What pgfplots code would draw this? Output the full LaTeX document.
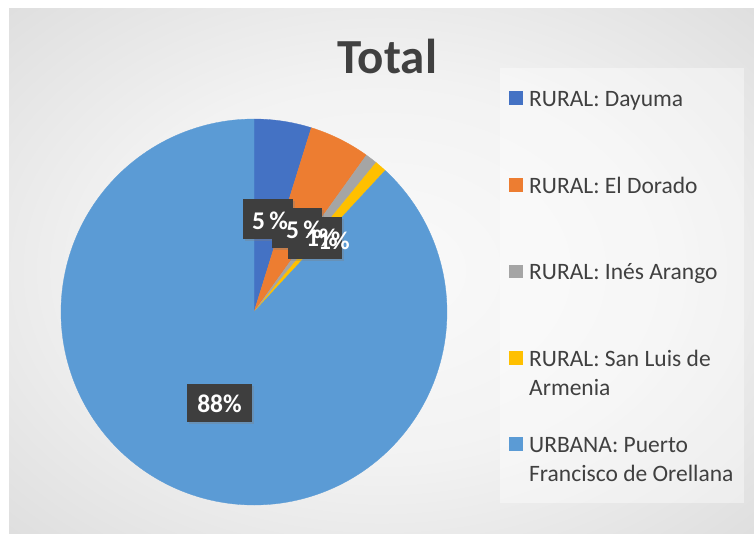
\documentclass[border=0pt]{standalone}
\usepackage{pgfplots}
\pgfplotsset{compat=1.18}
\usepackage{pgfplotstable}
\usepackage{fontspec}
\setmainfont{Carlito}
\usetikzlibrary{shadows}
\definecolor{cA}{HTML}{4472C4}
\definecolor{cB}{HTML}{ED7D31}
\definecolor{cC}{HTML}{A5A5A5}
\definecolor{cD}{HTML}{FFC000}
\definecolor{cE}{HTML}{5B9BD5}
\definecolor{txt}{HTML}{404040}
\definecolor{lblbg}{HTML}{3E3E3E}
\pgfdeclareradialshading{bgshade}{\pgfpoint{0bp}{0bp}}{color(0bp)=(white!98!black); color(18bp)=(white!95!black); color(50bp)=(white!81!black); color(72bp)=(white!74!black)}

\pgfplotstableread{
name value
Dayuma 4.8
ElDorado 5.1
InesArango 1.0
SanLuis 1.0
Urbana 88.1
}\piedata

\begin{document}
\begin{tikzpicture}
\begin{scope}[x=1pt,y=-1pt]
\fill[white] (0,0) rectangle (754,533);
\shade[shading=bgshade] (9,8) rectangle (754,533);
\fill[white, fill opacity=0.4] (500,68) rectangle (744,503);
\node[anchor=base, font=\fontsize{49}{52}\selectfont\bfseries, text=txt, inner sep=0] at (387.5,73) {Total};
\tikzset{lg/.style={anchor=base west, inner sep=0, font=\fontsize{23.5}{29}\selectfont, text=txt}}
\fill[cA] (509,91) rectangle (522.5,104.5);
\node[lg] at (529,106.5) {RURAL: Dayuma};
\fill[cB] (509,178) rectangle (522.5,191.5);
\node[lg] at (529,193) {RURAL: El Dorado};
\fill[cC] (509,264.5) rectangle (522.5,278);
\node[lg] at (529,279.5) {RURAL: Inés Arango};
\fill[cD] (509,351) rectangle (522.5,364.5);
\node[lg] at (529,366) {RURAL: San Luis de};
\node[lg] at (529,395) {Armenia};
\fill[cE] (509,437) rectangle (522.5,450.5);
\node[lg] at (529,452) {URBANA: Puerto};
\node[lg] at (529,481) {Francisco de Orellana};
\end{scope}

\pgfplotstablegetelem{0}{value}\of\piedata \let\vA\pgfplotsretval
\pgfplotstablegetelem{1}{value}\of\piedata \let\vB\pgfplotsretval
\pgfplotstablegetelem{2}{value}\of\piedata \let\vC\pgfplotsretval
\pgfplotstablegetelem{3}{value}\of\piedata \let\vD\pgfplotsretval
\pgfmathsetmacro\aA{90}
\pgfmathsetmacro\aB{\aA-3.6*\vA}
\pgfmathsetmacro\aC{\aB-3.6*\vB}
\pgfmathsetmacro\aD{\aC-3.6*\vC}
\pgfmathsetmacro\aE{\aD-3.6*\vD}
\pgfmathsetmacro\aF{\aA-360}

\begin{axis}[at={(254pt,-312pt)}, anchor=origin, x=193pt, y=193pt,
  xmin=-1, xmax=1, ymin=-1, ymax=1, hide axis, clip=false]
\addplot[fill=cA, draw=cA, line width=0.3pt, domain=\aB:\aA, samples=30] ({cos(x)},{sin(x)}) -- (axis cs:0,0) -- cycle;
\addplot[fill=cB, draw=cB, line width=0.3pt, domain=\aC:\aB, samples=30] ({cos(x)},{sin(x)}) -- (axis cs:0,0) -- cycle;
\addplot[fill=cC, draw=cC, line width=0.3pt, domain=\aD:\aC, samples=10] ({cos(x)},{sin(x)}) -- (axis cs:0,0) -- cycle;
\addplot[fill=cD, draw=cD, line width=0.3pt, domain=\aE:\aD, samples=10] ({cos(x)},{sin(x)}) -- (axis cs:0,0) -- cycle;
\addplot[fill=cE, draw=cE, line width=0.3pt, domain=\aF:\aE, samples=200] ({cos(x)},{sin(x)}) -- (axis cs:0,0) -- cycle;
\end{axis}

\begin{scope}[x=1pt,y=-1pt]
\tikzset{bx/.style={fill=lblbg, inner sep=0, drop shadow={shadow xshift=1.5pt, shadow yshift=-1.5pt, opacity=0.35}},
  lt/.style={text=white, inner sep=0, font=\fontsize{25.5}{27}\selectfont\bfseries}}
\node[bx, minimum width=50pt, minimum height=40pt] at (268,219) {};
\node[bx, minimum width=50pt, minimum height=40pt] at (297,228) {};
\node[bx, minimum width=54pt, minimum height=42pt] at (315,238) {};
\node[bx, minimum width=65pt, minimum height=38pt] at (219.5,403) {};
\node[lt] at (270,221) {5\,\%};
\node[lt] at (304,230) {5\,\%};
\node[lt] at (322,238) {1\%};
\node[lt] at (334,241) {1\%};
\node[lt] at (219.5,404) {88\%};
\end{scope}
\end{tikzpicture}
\end{document}
